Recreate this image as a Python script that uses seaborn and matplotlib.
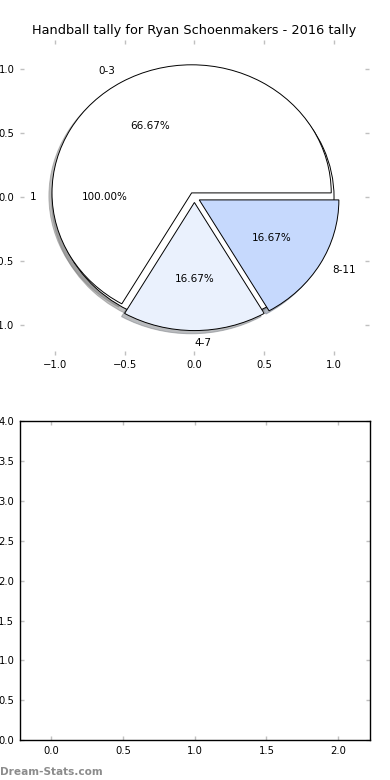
import seaborn as sns
import matplotlib.pyplot as plt

sns.set_style("white")
plt.rcParams['font.family'] = ['DejaVu Sans']
plt.rcParams['text.color'] = 'black'

title = 'Handball tally for Ryan Schoenmakers - 2016 tally'

total_labels = ['1']
total_values = [1]

range_labels = ['0-3', '4-7', '8-11']
range_values = [4, 1, 1]
range_colors = ['#ffffff', '#eaf1fd', '#c6d9fd']
explode = [0.04, 0.04, 0.04]

fig = plt.figure(figsize=(3.9, 7.8), dpi=100)
ax1 = fig.add_axes([0.051, 0.545, 0.895, 0.404])
ax2 = fig.add_axes([0.051, 0.051, 0.897, 0.409])

shadow = {'ox': -0.016, 'oy': -0.018, 'shade': 0.5}
wedge = {'edgecolor': 'black', 'linewidth': 0.7}
txt = {'fontsize': 7.5, 'color': 'black'}

ax1.pie(total_values, labels=total_labels, colors=['white'], autopct='%.2f%%',
        labeldistance=1.13, pctdistance=0.64,
        shadow=shadow, wedgeprops=wedge, textprops=txt, frame=True)
ax1.pie(range_values, labels=range_labels, colors=range_colors, autopct='%.2f%%',
        explode=explode, shadow=shadow, wedgeprops=wedge, textprops=txt, frame=True)

ax1.set_aspect('auto')
ax1.set_xlim(-1.25, 1.25)
ax1.set_ylim(-1.23, 1.23)
ax1.set_xticks([-1.0, -0.5, 0.0, 0.5, 1.0])
ax1.set_yticks([-1.0, -0.5, 0.0, 0.5, 1.0])
for s in ax1.spines.values():
    s.set_visible(False)
ax1.set_title(title, fontsize=9.3, pad=4, color='black')

ax2.set_xlim(-0.22, 2.22)
ax2.set_ylim(0, 4)
ax2.set_xticks([0.0, 0.5, 1.0, 1.5, 2.0])
ax2.set_yticks([0.0, 0.5, 1.0, 1.5, 2.0, 2.5, 3.0, 3.5, 4.0])
for s in ax2.spines.values():
    s.set_color('black')
    s.set_linewidth(1.0)

for ax in (ax1, ax2):
    ax.tick_params(direction='in', length=3, width=1, color='#c0c0c0',
                   labelsize=7.2, labelcolor='black',
                   top=True, right=True, bottom=True, left=True, pad=4)

fig.text(0.0, 0.004, 'Dream-Stats.com', color='#8c8c8c', fontsize=7.6,
         fontweight='bold', ha='left', va='bottom')

plt.savefig('out.png', dpi=100)
